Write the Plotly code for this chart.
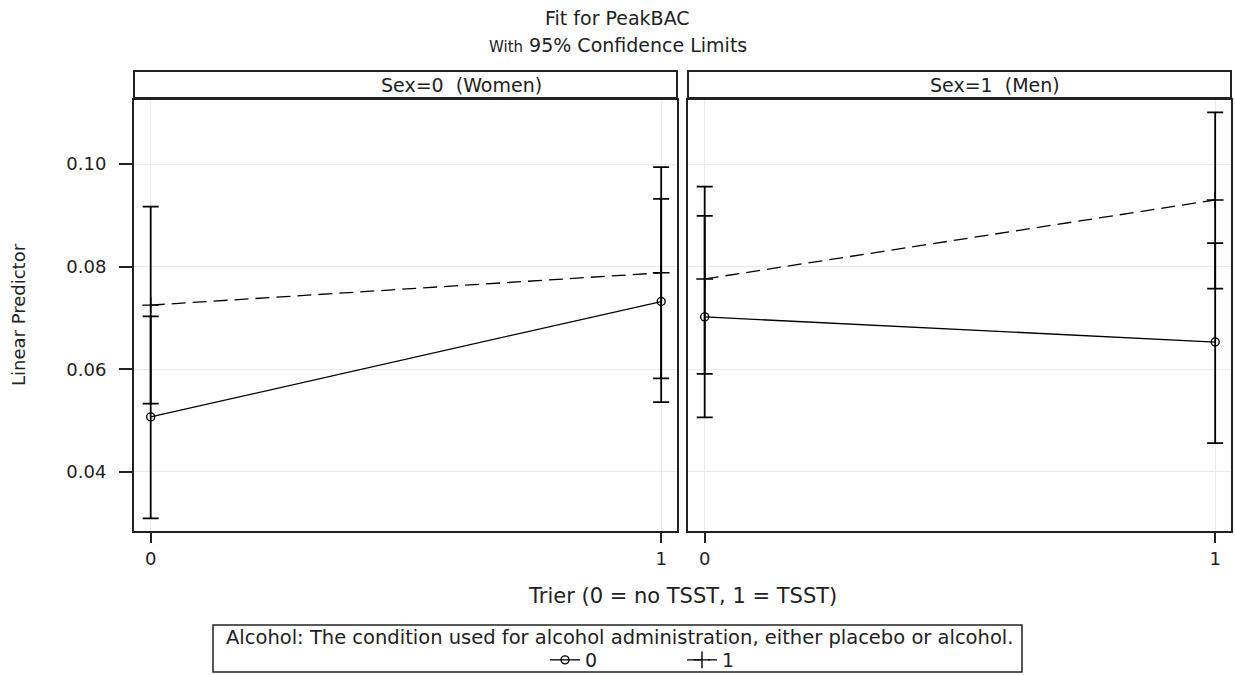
import plotly.graph_objects as go
from plotly.subplots import make_subplots

# ---- data ----
trier = [0, 1]
panels = ["Sex=0\u00a0\u00a0(Women)", "Sex=1\u00a0\u00a0(Men)"]
alcohol_levels = ["0", "1"]

# Women (Sex=0)
women_alc0 = [0.0507, 0.0732]
women_alc0_lo = [0.0309, 0.0536]
women_alc0_hi = [0.0703, 0.0932]
women_alc1 = [0.0725, 0.0788]
women_alc1_lo = [0.0533, 0.0582]
women_alc1_hi = [0.0917, 0.0994]

# Men (Sex=1)
men_alc0 = [0.0702, 0.0653]
men_alc0_lo = [0.0506, 0.0456]
men_alc0_hi = [0.0899, 0.0846]
men_alc1 = [0.0776, 0.0930]
men_alc1_lo = [0.0591, 0.0757]
men_alc1_hi = [0.0956, 0.1101]

y_ticks = [0.04, 0.06, 0.08, 0.10]
y_tick_text = ["0.04", "0.06", "0.08", "0.10"]
x_ticks = [0, 1]

FONT = "DejaVu Sans, Verdana, sans-serif"
INK = "#222"
W, H = 1235, 675
L, R, T, B = 134, 1231, 100, 531

fig = make_subplots(rows=1, cols=2, shared_yaxes=True,
                    horizontal_spacing=(688 - 677) / (R - L))


def add_series(col, y, lo, hi, name, dash, symbol, show):
    fig.add_trace(go.Scatter(
        x=trier, y=y, mode="lines+markers", name=name,
        legendgroup=name, showlegend=show,
        line=dict(color="black", width=1.3, dash=dash),
        marker=dict(symbol=symbol, size=8 if symbol == "circle-open" else 12,
                    color="black", line=dict(color="black", width=1.4)),
        error_y=dict(type="data", symmetric=False,
                     array=[h - v for h, v in zip(hi, y)],
                     arrayminus=[v - l for v, l in zip(y, lo)],
                     color="black", thickness=1.8, width=8),
    ), row=1, col=col)


add_series(1, women_alc0, women_alc0_lo, women_alc0_hi, alcohol_levels[0], "solid", "circle-open", True)
add_series(1, women_alc1, women_alc1_lo, women_alc1_hi, alcohol_levels[1], "14px,7px", "cross-thin-open", True)
add_series(2, men_alc0, men_alc0_lo, men_alc0_hi, alcohol_levels[0], "solid", "circle-open", False)
add_series(2, men_alc1, men_alc1_lo, men_alc1_hi, alcohol_levels[1], "14px,7px", "cross-thin-open", False)

axis_common = dict(showline=True, linecolor=INK, linewidth=2, mirror=True,
                   showgrid=True, gridcolor="#ebebeb", gridwidth=1, zeroline=False,
                   tickfont=dict(family=FONT, size=18, color=INK))

for c in (1, 2):
    fig.update_xaxes(range=[-0.0327, 1.031], tickvals=x_ticks, ticks="outside",
                     ticklen=10, tickwidth=2, tickcolor=INK, row=1, col=c, **axis_common)
fig.update_yaxes(range=[0.02845, 0.1125], tickvals=y_ticks, ticktext=y_tick_text,
                 ticks="outside", ticklen=13, tickwidth=2, tickcolor=INK,
                 ticklabelstandoff=9, row=1, col=1, **axis_common)
fig.update_yaxes(range=[0.02845, 0.1125], tickvals=y_ticks, showticklabels=False,
                 ticks="", row=1, col=2, **axis_common)

ph = B - T
pw = R - L


def px_x(px):
    return (px - L) / pw


def px_y(py):
    return (B - py) / ph


# header strips
strips = [(134, 677, 461), (688, 1231, 995)]
for (x0, x1, tc), label in zip(strips, panels):
    fig.add_shape(type="rect", xref="paper", yref="paper",
                  x0=px_x(x0), x1=px_x(x1), y0=px_y(98), y1=px_y(71),
                  line=dict(color=INK, width=2), fillcolor="white")
    fig.add_annotation(xref="paper", yref="paper", x=px_x(tc), y=px_y(85),
                       text=label, showarrow=False, xanchor="center", yanchor="middle",
                       font=dict(family=FONT, size=19, color=INK))

# titles
fig.add_annotation(xref="paper", yref="paper", x=px_x(617.5), y=px_y(18),
                   text="Fit for PeakBAC", showarrow=False, xanchor="center", yanchor="middle",
                   font=dict(family=FONT, size=19, color=INK))
fig.add_annotation(xref="paper", yref="paper", x=px_x(617.5), y=px_y(45),
                   text="<span style='font-size:15px'>With</span> 95% Confidence Limits",
                   showarrow=False, xanchor="center", yanchor="middle",
                   font=dict(family=FONT, size=19, color=INK))

# axis titles
fig.add_annotation(xref="paper", yref="paper", x=px_x(682), y=px_y(596),
                   text="Trier (0 = no TSST, 1 = TSST)", showarrow=False,
                   xanchor="center", yanchor="middle",
                   font=dict(family=FONT, size=21, color=INK))
fig.add_annotation(xref="paper", yref="paper", x=px_x(18), y=px_y(315),
                   text="Linear Predictor", showarrow=False, textangle=-90,
                   xanchor="center", yanchor="middle",
                   font=dict(family=FONT, size=18, color=INK))

# legend frame and title
fig.add_shape(type="rect", xref="paper", yref="paper",
              x0=px_x(213), x1=px_x(1022), y0=px_y(672), y1=px_y(625),
              line=dict(color=INK, width=1.5), fillcolor="rgba(0,0,0,0)")
fig.add_annotation(xref="paper", yref="paper", x=px_x(619), y=px_y(637),
                   text="Alcohol: The condition used for alcohol administration, either placebo or alcohol.",
                   showarrow=False, xanchor="center", yanchor="middle",
                   font=dict(family=FONT, size=19.5, color=INK))

fig.update_layout(
    width=W, height=H,
    margin=dict(l=L, r=W - R, t=T, b=H - B, autoexpand=False),
    plot_bgcolor="white", paper_bgcolor="white",
    font=dict(family=FONT, size=18, color=INK),
    legend=dict(
        orientation="h", x=px_x(545), xanchor="left", y=px_y(660), yanchor="middle",
        borderwidth=0, bgcolor="rgba(0,0,0,0)",
        font=dict(family=FONT, size=19, color=INK),
        itemwidth=30, tracegroupgap=0, entrywidth=92, entrywidthmode="pixels",
    ),
)

fig.write_html("out.html", config={"displayModeBar": False},
               post_script="document.body.style.margin='0px';")
